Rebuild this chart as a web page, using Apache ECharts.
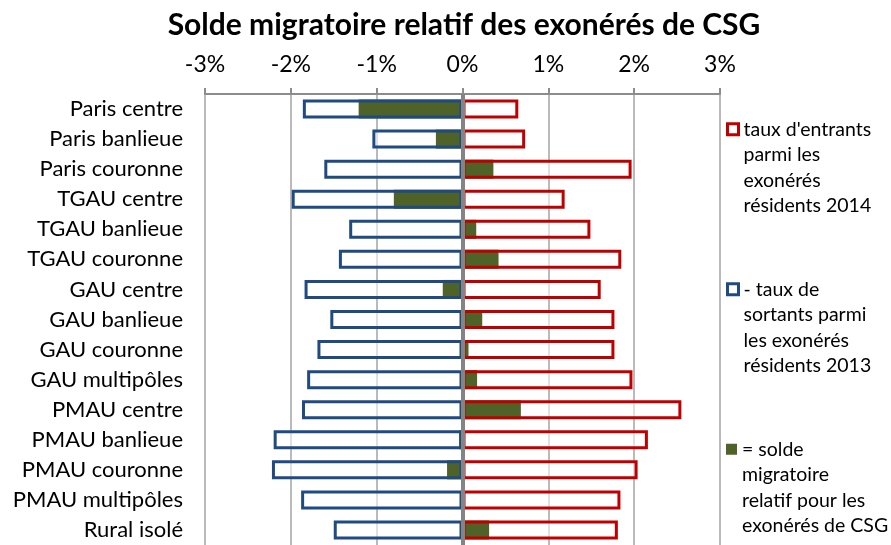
<!DOCTYPE html>
<html>
<head>
<meta charset="utf-8" />
<title>Solde migratoire</title>
<script src="https://cdn.jsdelivr.net/npm/echarts@6/dist/echarts.min.js"></script>
<style>
  html, body { margin: 0; padding: 0; background: #fff; }
  #main { width: 891px; height: 545px; }
</style>
</head>
<body>
<div id="main"></div>
<script type="text/javascript">
  // categories, top to bottom
  var categories = ['Paris centre', 'Paris banlieue', 'Paris couronne', 'TGAU centre', 'TGAU banlieue',
    'TGAU couronne', 'GAU centre', 'GAU banlieue', 'GAU couronne', 'GAU multipôles',
    'PMAU centre', 'PMAU banlieue', 'PMAU couronne', 'PMAU multipôles', 'Rural isolé'];
  // - taux de sortants (%)
  var sortants = [-1.86, -1.05, -1.61, -1.99, -1.32, -1.44, -1.84, -1.54, -1.69, -1.81, -1.87, -2.20, -2.22, -1.88, -1.50];
  // taux d'entrants (%)
  var entrants = [0.65, 0.73, 1.97, 1.19, 1.49, 1.85, 1.61, 1.77, 1.77, 1.98, 2.55, 2.16, 2.04, 1.84, 1.81];
  // solde migratoire relatif (%)
  var solde = [-1.21, -0.31, 0.36, -0.80, 0.16, 0.42, -0.23, 0.23, 0.07, 0.17, 0.68, -0.04, -0.18, -0.02, 0.31];

  var nameIn = "taux d'entrants\nparmi les\nexonérés\nrésidents 2014";
  var nameOut = "- taux de\nsortants parmi\nles exonérés\nrésidents 2013";
  var nameSolde = "= solde\nmigratoire\nrelatif pour les\nexonérés de CSG";

  var FONT = 'Lato';
  var RED = '#c00000', BLUE = '#1f4b82', GREEN = '#4f6228';
  var BW = 19;

  // icon is centred on the text block, so 3 blank lines above put it beside the first line
  function legendBox(name, top, style) {
    return {
      data: [name],
      orient: 'vertical',
      left: 726,
      top: top,
      icon: 'rect',
      itemWidth: 11,
      itemHeight: 11,
      padding: 0,
      selectedMode: false,
      itemStyle: style,
      formatter: function (n) { return '\n\n\n' + n; },
      textStyle: { fontFamily: FONT, fontSize: 19.5, color: '#000', lineHeight: 25.5 }
    };
  }

  var myChart = echarts.init(document.getElementById('main'));

  var option = {
    animation: false,
    textStyle: { fontFamily: FONT },
    title: {
      text: 'Solde migratoire relatif des exonérés de CSG',
      left: 459,
      textAlign: 'center',
      top: 5,
      textStyle: { fontFamily: FONT, fontWeight: 'bold', fontSize: 30, color: '#000' }
    },
    legend: [
      legendBox(nameIn, 40, { color: '#fff', borderColor: RED, borderWidth: 3 }),
      legendBox(nameOut, 200, { color: '#fff', borderColor: BLUE, borderWidth: 3 }),
      legendBox(nameSolde, 360, { color: GREEN, borderWidth: 0 })
    ],
    grid: { left: 205, right: 171, top: 94, bottom: -4, containLabel: false },
    xAxis: {
      type: 'value',
      position: 'top',
      min: -3,
      max: 3,
      interval: 1,
      axisLine: { show: true, lineStyle: { color: '#8c8c8c', width: 2 } },
      axisTick: { show: true, length: 6, lineStyle: { color: '#8c8c8c', width: 2 } },
      axisLabel: {
        fontFamily: FONT, fontSize: 23, color: '#000', margin: 18,
        formatter: function (v) { return v + '%'; }
      },
      splitLine: { show: true, lineStyle: { color: '#a3a3a3', width: 1.5 } }
    },
    yAxis: {
      type: 'category',
      inverse: true,
      data: categories,
      axisLine: { show: false },
      axisTick: { show: false },
      axisLabel: { fontFamily: FONT, fontSize: 22, color: '#000', margin: 22 }
    },
    series: [
      // light white fill behind the outlined bars
      { type: 'bar', stack: 'bg', data: sortants, barWidth: BW, barGap: '-100%', silent: true,
        itemStyle: { color: 'rgba(255,255,255,0.55)' } },
      { type: 'bar', stack: 'bg', data: entrants, barWidth: BW, barGap: '-100%', silent: true,
        itemStyle: { color: 'rgba(255,255,255,0.55)' } },
      { name: nameSolde, type: 'bar', stack: 'solde', data: solde, barWidth: BW, barGap: '-100%',
        itemStyle: { color: GREEN } },
      { name: nameOut, type: 'bar', stack: 'out', data: sortants, barWidth: BW, barGap: '-100%',
        itemStyle: { color: 'rgba(0,0,0,0)', borderColor: BLUE, borderWidth: 3 } },
      { name: nameIn, type: 'bar', stack: 'out', data: entrants, barWidth: BW, barGap: '-100%',
        itemStyle: { color: 'rgba(0,0,0,0)', borderColor: RED, borderWidth: 3 },
        markLine: {
          silent: true,
          symbol: 'none',
          label: { show: false },
          lineStyle: { color: '#848484', width: 4, type: 'solid' },
          data: [{ xAxis: 0 }]
        } }
    ]
  };

  myChart.setOption(option);
</script>
</body>
</html>
